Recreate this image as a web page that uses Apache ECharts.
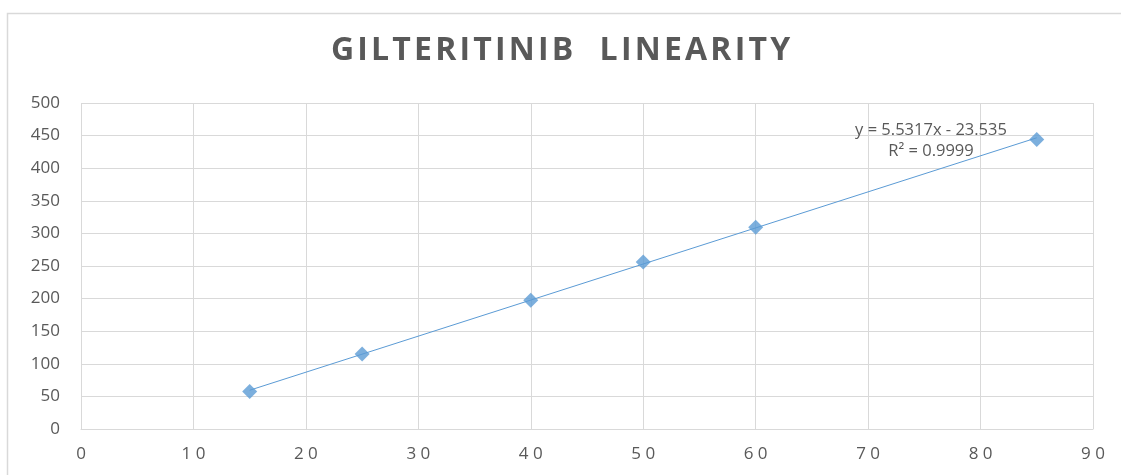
<!DOCTYPE html>
<html>
<head>
<meta charset="utf-8">
<script src="https://cdn.jsdelivr.net/npm/echarts@6/dist/echarts.min.js"></script>
<style>
  html, body { margin: 0; padding: 0; background: #ffffff; }
  #chart { width: 1121px; height: 475px; }
</style>
</head>
<body>
<div id="chart"></div>
<script>
// Concentration (x) vs. peak response (y)
const concentrations = [15, 25, 40, 50, 60, 85];
const responses = [57.5, 115, 197.5, 256, 309.5, 444];

// Least-squares fit shown on the chart
const slope = 5.5317;
const intercept = -23.535;
const rSquared = 0.9999;

const chartTitle = 'GILTERITINIB  LINEARITY';
const xTicks = [0, 10, 20, 30, 40, 50, 60, 70, 80, 90];
const yTicks = [0, 50, 100, 150, 200, 250, 300, 350, 400, 450, 500];

const points = concentrations.map((x, i) => [x, responses[i]]);
const xFirst = concentrations[0];
const xLast = concentrations[concentrations.length - 1];
const trend = [
  [xFirst, slope * xFirst + intercept],
  [xLast, slope * xLast + intercept]
];

const labelColor = '#595959';
const gridColor = '#d9d9d9';
const blue = '#5b9bd5';
const font = '"Open Sans", "Liberation Sans", sans-serif';

// widen the title's tracking with hair spaces between letters
const trackedTitle = chartTitle.split('').join('\u200A');

const chart = echarts.init(document.getElementById('chart'), null, { renderer: 'canvas' });

chart.setOption({
  animation: false,
  backgroundColor: '#ffffff',
  title: {
    text: trackedTitle,
    left: 'center',
    top: 30,
    textStyle: {
      fontFamily: font,
      fontWeight: 'bold',
      fontSize: 32,
      color: labelColor
    }
  },
  grid: { left: 81, right: 28, top: 103, bottom: 46 },
  xAxis: {
    type: 'value',
    min: xTicks[0],
    max: xTicks[xTicks.length - 1],
    interval: 10,
    axisLine: { show: true, lineStyle: { color: gridColor } },
    axisTick: { show: false },
    splitLine: { show: true, lineStyle: { color: gridColor } },
    axisLabel: {
      color: labelColor,
      fontFamily: font,
      fontSize: 17,
      margin: 17,
      formatter: v => String(v).split('').join(' ')
    }
  },
  yAxis: {
    type: 'value',
    min: yTicks[0],
    max: yTicks[yTicks.length - 1],
    interval: 50,
    axisLine: { show: false },
    axisTick: { show: false },
    splitLine: { show: true, lineStyle: { color: gridColor } },
    axisLabel: {
      color: labelColor,
      fontFamily: font,
      fontSize: 17,
      margin: 21
    }
  },
  series: [
    {
      name: 'Trend',
      type: 'line',
      data: trend,
      symbol: 'none',
      lineStyle: { color: blue, width: 1 },
      z: 2,
      silent: true
    },
    {
      name: 'Response',
      type: 'scatter',
      data: points,
      symbol: 'diamond',
      symbolSize: [15, 15],
      itemStyle: { color: blue },
      z: 3
    }
  ],
  graphic: [
    {
      type: 'rect',
      shape: { x: 7.5, y: 13.5, width: 1300, height: 600 },
      style: { fill: 'none', stroke: gridColor, lineWidth: 1.5 },
      z: -10,
      silent: true
    },
    {
      type: 'text',
      x: 931,
      y: 120,
      style: {
        text: 'y = ' + slope + 'x - ' + Math.abs(intercept) + '\nR² = ' + rSquared,
        fill: labelColor,
        font: '16.5px ' + font,
        textAlign: 'center',
        lineHeight: 21
      },
      z: 10
    }
  ]
});
</script>
</body>
</html>
